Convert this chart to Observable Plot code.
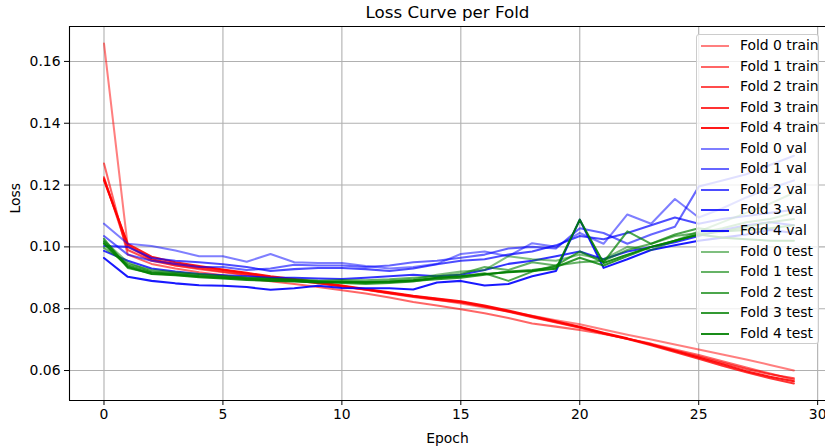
<!DOCTYPE html>
<html>
<head>
<meta charset="utf-8">
<script src="https://cdn.jsdelivr.net/npm/d3@7"></script>
<script src="https://cdn.jsdelivr.net/npm/@observablehq/plot@0.6"></script>
<style>
  body { margin: 0; background: #fff; }
  #wrap { position: relative; width: 825px; height: 447px; font-family: "DejaVu Sans", sans-serif; }
  #legend { position: absolute; left: 696px; top: 34px; width: 123px; height: 310px;
            background: rgba(255,255,255,0.8); border: 1px solid #cccccc; border-radius: 3px; box-sizing: border-box; }
  .sw { position: absolute; height: 2px; width: 28px; }
  .lt { position: absolute; font-size: 13.9px; color: #000; line-height: 14px; white-space: nowrap; }
</style>
</head>
<body>
<div id="wrap"></div>
<script>
const epochs = d3.range(30);
const foldNames = ["Fold 0", "Fold 1", "Fold 2", "Fold 3", "Fold 4"];
const kinds = ["train", "val", "test"];
const yTicks = [0.06, 0.08, 0.10, 0.12, 0.14, 0.16];
const xTicks = [0, 5, 10, 15, 20, 25, 30];

const train0 = [0.1658,0.1000,0.0960,0.0940,0.0928,0.0918,0.0908,0.0900,0.0891,0.0882,0.0872,0.0862,0.0851,0.0840,0.0829,0.0817,0.0804,0.0791,0.0777,0.0763,0.0750,0.0733,0.0716,0.0700,0.0684,0.0668,0.0652,0.0636,0.0618,0.0600];
const train1 = [0.1270,0.0975,0.0945,0.0930,0.0918,0.0908,0.0898,0.0889,0.0880,0.0870,0.0860,0.0849,0.0836,0.0822,0.0810,0.0798,0.0785,0.0770,0.0752,0.0742,0.0731,0.0718,0.0703,0.0687,0.0668,0.0650,0.0630,0.0610,0.0590,0.0570];
const train2 = [0.1225,0.0990,0.0955,0.0940,0.0930,0.0920,0.0910,0.0900,0.0892,0.0882,0.0872,0.0861,0.0849,0.0838,0.0828,0.0820,0.0806,0.0790,0.0772,0.0755,0.0738,0.0720,0.0703,0.0685,0.0665,0.0645,0.0625,0.0605,0.0588,0.0575];
const train3 = [0.1220,0.1005,0.0960,0.0945,0.0935,0.0925,0.0914,0.0903,0.0894,0.0884,0.0873,0.0862,0.0851,0.0840,0.0831,0.0822,0.0808,0.0792,0.0774,0.0757,0.0740,0.0720,0.0702,0.0682,0.0660,0.0638,0.0615,0.0594,0.0575,0.0558];
const train4 = [0.1215,0.1010,0.0968,0.0950,0.0938,0.0927,0.0916,0.0905,0.0896,0.0886,0.0875,0.0864,0.0853,0.0842,0.0833,0.0824,0.0810,0.0794,0.0776,0.0759,0.0742,0.0722,0.0704,0.0684,0.0663,0.0642,0.0620,0.0598,0.0580,0.0565];

const val0 = [0.1075,0.1010,0.1003,0.0988,0.0970,0.0970,0.0952,0.0977,0.0950,0.0948,0.0948,0.0938,0.0930,0.0935,0.0945,0.0977,0.0985,0.0970,0.1012,0.1000,0.1045,0.1010,0.1105,0.1075,0.1155,0.1095,0.1125,0.1160,0.1190,0.1215];
const val1 = [0.1035,0.0975,0.0955,0.0945,0.0935,0.0935,0.0925,0.0930,0.0942,0.0940,0.0940,0.0935,0.0940,0.0950,0.0955,0.0965,0.0975,0.0995,0.1000,0.0995,0.1060,0.1045,0.1010,0.1040,0.1065,0.1195,0.1215,0.1235,0.1265,0.1295];
const val2 = [0.1003,0.1000,0.0964,0.0955,0.0950,0.0944,0.0935,0.0922,0.0928,0.0932,0.0932,0.0928,0.0922,0.0930,0.0944,0.0955,0.0960,0.0975,0.0985,0.1005,0.1035,0.1025,0.1045,0.1070,0.1095,0.1075,0.1090,0.1100,0.1110,0.1120];
const val3 = [0.0987,0.0955,0.0930,0.0920,0.0912,0.0908,0.0905,0.0900,0.0900,0.0898,0.0896,0.0900,0.0905,0.0910,0.0905,0.0910,0.0925,0.0945,0.0955,0.0970,0.0985,0.0960,0.0985,0.1000,0.1015,0.1035,0.1055,0.1070,0.1080,0.1070];
const val4 = [0.0964,0.0903,0.0890,0.0882,0.0876,0.0874,0.0870,0.0861,0.0866,0.0874,0.0867,0.0866,0.0866,0.0862,0.0885,0.0890,0.0875,0.0880,0.0905,0.0922,0.1088,0.0932,0.0960,0.0990,0.1005,0.1020,0.1030,0.1040,0.1055,0.1045];

const test0 = [0.1020,0.0950,0.0920,0.0915,0.0910,0.0905,0.0900,0.0898,0.0895,0.0890,0.0888,0.0885,0.0890,0.0895,0.0910,0.0920,0.0925,0.0970,0.0960,0.0955,0.0975,0.0960,0.1000,0.0990,0.1020,0.1050,0.1080,0.1110,0.1140,0.1175];
const test1 = [0.0997,0.0945,0.0925,0.0918,0.0912,0.0906,0.0900,0.0896,0.0893,0.0890,0.0893,0.0892,0.0895,0.0900,0.0905,0.0912,0.0935,0.0925,0.0950,0.0940,0.0950,0.0955,0.0990,0.1010,0.1035,0.1045,0.1060,0.1080,0.1090,0.1110];
const test2 = [0.1026,0.0932,0.0915,0.0910,0.0905,0.0900,0.0898,0.0895,0.0892,0.0888,0.0883,0.0880,0.0883,0.0888,0.0900,0.0905,0.0915,0.0890,0.0920,0.0940,0.0985,0.0950,0.1050,0.1010,0.1040,0.1060,0.1050,0.1065,0.1080,0.1090];
const test3 = [0.1016,0.0940,0.0918,0.0912,0.0906,0.0902,0.0896,0.0892,0.0890,0.0886,0.0885,0.0884,0.0886,0.0890,0.0895,0.0900,0.0910,0.0920,0.0925,0.0935,0.0965,0.0940,0.0970,0.1000,0.1020,0.1040,0.1050,0.1055,0.1060,0.1070];
const test4 = [0.1010,0.0935,0.0912,0.0908,0.0902,0.0898,0.0893,0.0890,0.0888,0.0885,0.0887,0.0886,0.0888,0.0892,0.0900,0.0905,0.0912,0.0918,0.0922,0.0929,0.1088,0.0948,0.0975,0.1000,0.1020,0.1040,0.1030,0.1025,0.1020,0.1020];

const seriesByKind = {
  train: [train0, train1, train2, train3, train4],
  val: [val0, val1, val2, val3, val4],
  test: [test0, test1, test2, test3, test4]
};
const kindColor = { train: "#ff0000", val: "#0000ff", test: "#008000" };
const alphas = [0.5, 0.6, 0.7, 0.8, 0.9];

const series = [];
for (const k of kinds) {
  seriesByKind[k].forEach((vals, i) => {
    series.push({
      name: `${foldNames[i]} ${k}`,
      color: kindColor[k],
      alpha: alphas[i],
      data: epochs.map(e => ({ epoch: e, loss: vals[e] }))
    });
  });
}

const xDomain = [-1.45, 30.33];
const yDomain = [0.0503, 0.1713];

const lineMarks = series.map(s => Plot.line(s.data, {
  x: "epoch", y: "loss", stroke: s.color, strokeOpacity: s.alpha, strokeWidth: 2.05
}));

const chart = Plot.plot({
  width: 825,
  height: 447,
  marginLeft: 69,
  marginRight: 0,
  marginTop: 26,
  marginBottom: 47,
  style: { fontFamily: "DejaVu Sans, sans-serif", fontSize: "13.9px", background: "#fff", overflow: "visible" },
  x: { domain: xDomain },
  y: { domain: yDomain },
  marks: [
    Plot.gridX(xTicks, { stroke: "#b0b0b0", strokeOpacity: 1, strokeWidth: 1.1 }),
    Plot.gridY(yTicks, { stroke: "#b0b0b0", strokeOpacity: 1, strokeWidth: 1.1 }),
    ...lineMarks,
    Plot.ruleX([xDomain[0]], { stroke: "#000", strokeWidth: 1.1 }),
    Plot.ruleY([yDomain[0], yDomain[1]], { stroke: "#000", strokeWidth: 1.1 }),
    Plot.axisX(xTicks, { tickSize: 5, tickPadding: 4, label: null, fontSize: 13.9, stroke: "#000" }),
    Plot.axisY(yTicks, { tickSize: 5, tickPadding: 4, label: null, tickFormat: d => d.toFixed(2), fontSize: 13.9, stroke: "#000" }),
    Plot.text(["Loss Curve per Fold"], { frameAnchor: "top", lineAnchor: "middle", dy: -14, fontSize: 16.7, fill: "#000" }),
    Plot.text(["Epoch"], { frameAnchor: "bottom", lineAnchor: "middle", dy: 38, fontSize: 13.9, fill: "#000" }),
    Plot.text(["Loss"], { frameAnchor: "left", lineAnchor: "middle", dx: -54, rotate: -90, fontSize: 13.9, fill: "#000" })
  ]
});

const wrap = document.getElementById("wrap");
wrap.appendChild(chart);

const legend = document.createElement("div");
legend.id = "legend";
wrap.appendChild(legend);
series.forEach((s, i) => {
  const cy = 45 + 20.55 * i;
  const sw = document.createElement("div");
  sw.className = "sw";
  sw.style.left = (700 - 696) + "px";
  sw.style.top = (cy - 1 - 34) + "px";
  sw.style.background = s.color;
  sw.style.opacity = s.alpha;
  legend.appendChild(sw);
  const t = document.createElement("div");
  t.className = "lt";
  t.style.left = (739 - 696) + "px";
  t.style.top = (cy - 8 - 34) + "px";
  t.textContent = s.name;
  legend.appendChild(t);
});
</script>
</body>
</html>
